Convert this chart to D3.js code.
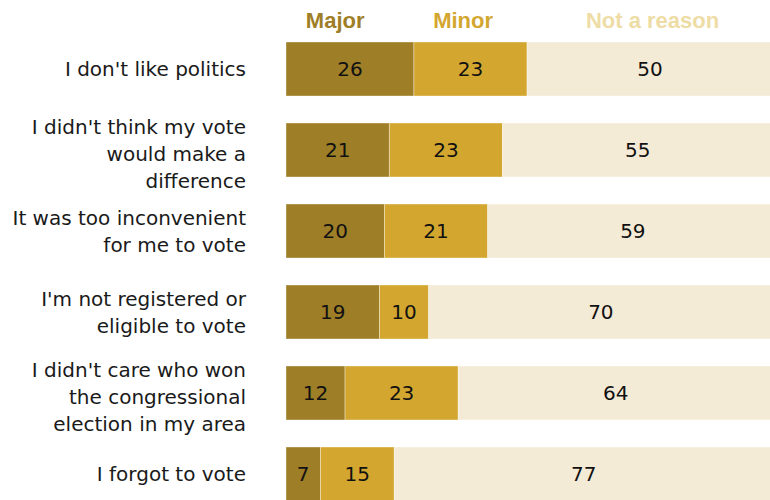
<!DOCTYPE html>
<html>
<head>
<meta charset="utf-8">
<script src="https://cdn.jsdelivr.net/npm/d3@7"></script>
<style>
  html, body { margin: 0; padding: 0; background: #fff; }
  svg { display: block; }
</style>
</head>
<body>
<svg id="chart" width="770" height="500"></svg>
<script>
// ---- data ----
const categories = [
  ["I don't like politics"],
  ["I didn't think my vote", "would make a", "difference"],
  ["It was too inconvenient", "for me to vote"],
  ["I'm not registered or", "eligible to vote"],
  ["I didn't care who won", "the congressional", "election in my area"],
  ["I forgot to vote"]
];
const seriesNames = ["Major", "Minor", "Not a reason"];
const major = [26, 21, 20, 19, 12, 7];
const minor = [23, 23, 21, 10, 23, 15];
const notReason = [50, 55, 59, 70, 64, 77];
const headerPos = [10, 36, 74.5]; // header centers in percent units
const colors = ["#9E7E26", "#D3A72F", "#F4EBD7"];
const headerColors = ["#9E7E26", "#D3A72F", "#EEDCA5"];

// ---- layout ----
const svg = d3.select("#chart");
const x = d3.scaleLinear().domain([0, 100]).range([286, 778]);
const y = d3.scaleBand().domain(d3.range(categories.length))
  .range([42, 501]).paddingInner(1 / 3).paddingOuter(0);
const barH = y.bandwidth();

const rows = categories.map((c, i) => {
  const vals = [major[i], minor[i], notReason[i]];
  let acc = 0;
  return vals.map((v, k) => { const s = { i, k, v, x0: acc, x1: acc + v }; acc += v; return s; });
});

const g = svg.append("g");
rows.forEach((segs, i) => {
  const row = g.append("g");
  row.selectAll("rect").data(segs).join("rect")
    .attr("x", d => x(d.x0))
    .attr("y", y(i))
    .attr("width", d => x(d.x1) - x(d.x0))
    .attr("height", barH)
    .attr("fill", d => colors[d.k])
    .attr("stroke", "rgba(255,255,255,0.45)")
    .attr("stroke-width", 0.8);
  row.selectAll("text").data(segs).join("text")
    .attr("x", d => x((d.x0 + d.x1) / 2))
    .attr("y", y(i) + barH / 2 + 7)
    .attr("text-anchor", "middle")
    .attr("font-family", "'DejaVu Sans', sans-serif")
    .attr("font-size", 20)
    .attr("fill", "#111")
    .text(d => d.v);
});

// category labels
const lineH = 27;
categories.forEach((lines, i) => {
  const cy = y(i) + barH / 2;
  const t = svg.append("text")
    .attr("text-anchor", "end")
    .attr("font-family", "'DejaVu Sans', sans-serif")
    .attr("font-size", 20)
    .attr("fill", "#1a1a1a");
  lines.forEach((ln, j) => {
    t.append("tspan")
      .attr("x", 246)
      .attr("y", cy + 7 + (j - (lines.length - 1) / 2) * lineH + (lines.length === 3 ? 4 : 0))
      .text(ln);
  });
});

// headers
svg.selectAll("text.hdr").data(seriesNames).join("text")
  .attr("class", "hdr")
  .attr("x", (d, k) => x(headerPos[k]))
  .attr("y", 28)
  .attr("text-anchor", "middle")
  .attr("font-family", "'Liberation Sans', Arial, sans-serif")
  .attr("font-weight", "bold")
  .attr("font-size", 22)
  .attr("fill", (d, k) => headerColors[k])
  .text(d => d);
</script>
</body>
</html>
